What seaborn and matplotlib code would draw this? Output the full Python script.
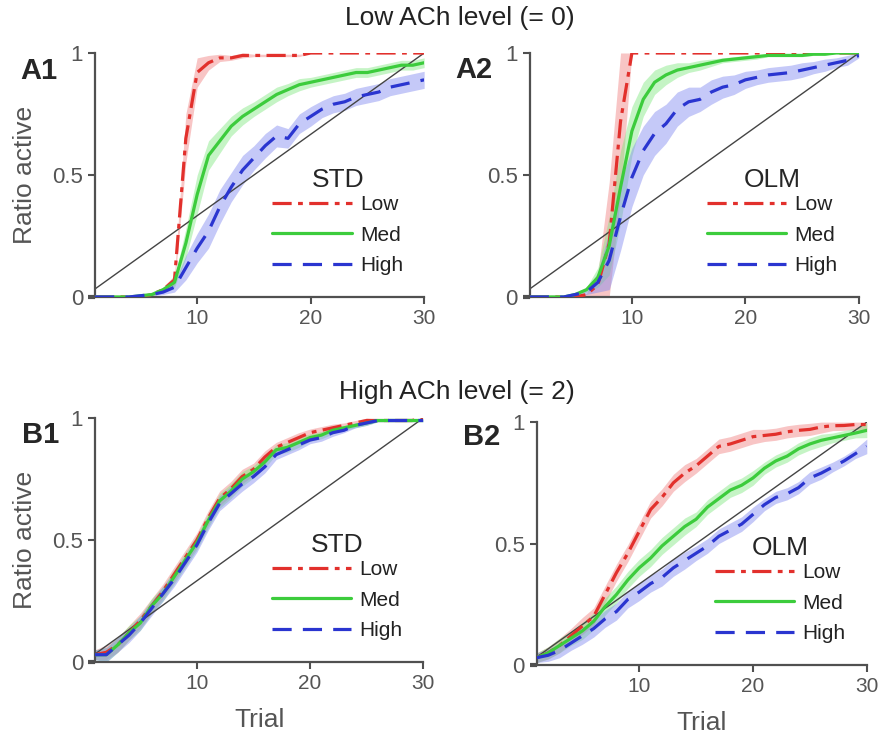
import numpy as np
import pandas as pd
import matplotlib
matplotlib.use("Agg")
import matplotlib.pyplot as plt
import seaborn as sns

trials = list(range(1, 31))
levels = ["Low", "Med", "High"]

# A1: low ACh, STD
a1_low = [0, 0, 0, 0, 0, 0.01, 0.03, 0.07, 0.65, 0.92, 0.96, 0.98, 0.98, 0.99, 0.99,
          0.99, 0.99, 0.99, 0.99, 1, 1, 1, 1, 1, 1, 1, 1, 1, 1, 1]
a1_med = [0, 0, 0, 0, 0.005, 0.01, 0.03, 0.06, 0.22, 0.42, 0.58, 0.64, 0.70, 0.74, 0.77,
          0.80, 0.83, 0.85, 0.87, 0.88, 0.89, 0.90, 0.91, 0.92, 0.92, 0.93, 0.94, 0.95, 0.95, 0.96]
a1_high = [0, 0, 0, 0, 0.005, 0.01, 0.02, 0.04, 0.12, 0.20, 0.27, 0.37, 0.45, 0.52, 0.57,
           0.62, 0.66, 0.65, 0.71, 0.74, 0.77, 0.79, 0.80, 0.82, 0.83, 0.84, 0.86, 0.87, 0.88, 0.89]
a1_low_sd = [0, 0, 0, 0, 0, 0.005, 0.01, 0.02, 0.1, 0.06, 0.03, 0.015, 0.01, 0.01, 0.005,
             0.005, 0.005, 0.005, 0.005, 0, 0, 0, 0, 0, 0, 0, 0, 0, 0, 0]
a1_med_sd = [0, 0, 0, 0, 0.005, 0.005, 0.01, 0.02, 0.06, 0.08, 0.06, 0.05, 0.04, 0.035, 0.03,
             0.03, 0.03, 0.025, 0.025, 0.02, 0.02, 0.02, 0.02, 0.02, 0.02, 0.02, 0.02, 0.02, 0.02, 0.02]
a1_high_sd = [0, 0, 0, 0, 0.005, 0.005, 0.01, 0.02, 0.05, 0.06, 0.07, 0.07, 0.06, 0.06, 0.05,
              0.05, 0.045, 0.04, 0.04, 0.04, 0.035, 0.035, 0.035, 0.035, 0.035, 0.035, 0.035, 0.035, 0.035, 0.035]

# A2: low ACh, OLM
a2_low = [0, 0, 0, 0, 0, 0.01, 0.05, 0.22, 0.72, 1, 1, 1, 1, 1, 1,
          1, 1, 1, 1, 1, 1, 1, 1, 1, 1, 1, 1, 1, 1, 1]
a2_med = [0, 0, 0, 0, 0.01, 0.03, 0.08, 0.21, 0.45, 0.68, 0.81, 0.88, 0.91, 0.93, 0.94,
          0.95, 0.96, 0.97, 0.975, 0.98, 0.985, 0.99, 0.99, 0.99, 0.99, 0.995, 0.995, 1, 1, 1]
a2_high = [0, 0, 0, 0, 0.01, 0.02, 0.06, 0.15, 0.33, 0.49, 0.60, 0.67, 0.71, 0.77, 0.80,
           0.81, 0.84, 0.86, 0.87, 0.89, 0.90, 0.91, 0.915, 0.92, 0.93, 0.94, 0.95, 0.96, 0.97, 0.99]
a2_low_sd = [0, 0, 0, 0, 0, 0.005, 0.05, 0.25, 0.3, 0, 0, 0, 0, 0, 0,
             0, 0, 0, 0, 0, 0, 0, 0, 0, 0, 0, 0, 0, 0, 0]
a2_med_sd = [0, 0, 0, 0, 0.005, 0.01, 0.04, 0.12, 0.15, 0.1, 0.07, 0.05, 0.04, 0.03, 0.02,
             0.02, 0.015, 0.01, 0.01, 0.01, 0.01, 0.005, 0.005, 0.005, 0.005, 0.005, 0.005, 0, 0, 0]
a2_high_sd = [0, 0, 0, 0, 0.005, 0.01, 0.04, 0.12, 0.14, 0.12, 0.1, 0.09, 0.08, 0.07, 0.06,
              0.05, 0.05, 0.045, 0.04, 0.035, 0.03, 0.03, 0.03, 0.03, 0.03, 0.025, 0.025, 0.02, 0.02, 0.01]

# B1: high ACh, STD
b1_low = [0.03, 0.04, 0.07, 0.12, 0.17, 0.23, 0.29, 0.36, 0.43, 0.50, 0.59, 0.67, 0.71, 0.76, 0.79,
          0.84, 0.88, 0.90, 0.92, 0.94, 0.95, 0.96, 0.97, 0.98, 0.99, 0.99, 0.99, 0.99, 0.99, 1.0]
b1_med = [0.03, 0.03, 0.07, 0.12, 0.16, 0.23, 0.28, 0.35, 0.42, 0.49, 0.58, 0.66, 0.70, 0.75, 0.78,
          0.82, 0.87, 0.88, 0.90, 0.92, 0.93, 0.95, 0.96, 0.97, 0.98, 0.99, 0.99, 0.99, 0.99, 0.99]
b1_high = [0.03, 0.03, 0.07, 0.11, 0.16, 0.22, 0.28, 0.34, 0.41, 0.48, 0.57, 0.65, 0.69, 0.73, 0.76,
           0.80, 0.85, 0.87, 0.89, 0.91, 0.92, 0.94, 0.95, 0.97, 0.98, 0.99, 0.99, 0.99, 0.99, 0.99]
b1_sd = [0.02, 0.03, 0.03, 0.03, 0.03, 0.03, 0.03, 0.03, 0.03, 0.03, 0.03, 0.03, 0.03, 0.03, 0.025,
         0.025, 0.02, 0.02, 0.02, 0.015, 0.015, 0.015, 0.01, 0.01, 0.01, 0.005, 0.005, 0.005, 0.005, 0.005]

# B2: high ACh, OLM
b2_low = [0.03, 0.05, 0.08, 0.12, 0.16, 0.20, 0.29, 0.38, 0.46, 0.55, 0.64, 0.69, 0.75, 0.79, 0.82,
          0.86, 0.90, 0.91, 0.925, 0.94, 0.945, 0.95, 0.96, 0.966, 0.97, 0.98, 0.985, 0.986, 0.99, 0.99]
b2_med = [0.03, 0.05, 0.08, 0.11, 0.14, 0.18, 0.24, 0.29, 0.35, 0.40, 0.44, 0.49, 0.53, 0.57, 0.60,
          0.65, 0.685, 0.72, 0.74, 0.77, 0.81, 0.84, 0.86, 0.89, 0.91, 0.925, 0.935, 0.945, 0.955, 0.966]
b2_high = [0.03, 0.04, 0.06, 0.09, 0.12, 0.15, 0.19, 0.22, 0.27, 0.30, 0.335, 0.36, 0.40, 0.43, 0.46,
           0.49, 0.53, 0.555, 0.58, 0.62, 0.66, 0.69, 0.705, 0.73, 0.77, 0.79, 0.815, 0.84, 0.87, 0.90]
b2_sd = [0.02, 0.025, 0.03, 0.03, 0.035, 0.035, 0.035, 0.035, 0.035, 0.035, 0.035, 0.035, 0.035, 0.035, 0.03,
         0.03, 0.03, 0.03, 0.03, 0.03, 0.025, 0.025, 0.025, 0.025, 0.025, 0.025, 0.02, 0.02, 0.02, 0.03]

# chance line endpoints
chance_x = [1, 30]
chance_y = [0.033, 1.0]

panels = [
    ("A1", "STD", [a1_low, a1_med, a1_high], [a1_low_sd, a1_med_sd, a1_high_sd]),
    ("A2", "OLM", [a2_low, a2_med, a2_high], [a2_low_sd, a2_med_sd, a2_high_sd]),
    ("B1", "STD", [b1_low, b1_med, b1_high], [b1_sd, b1_sd, b1_sd]),
    ("B2", "OLM", [b2_low, b2_med, b2_high], [b2_sd, b2_sd, b2_sd]),
]

colors = {"Low": "#e2302c", "Med": "#3ccc3c", "High": "#2a35d0"}
bands = {"Low": "#f08080", "Med": "#80e880", "High": "#8088f0"}
dashes = {"Low": (6, 2, 1.5, 2), "Med": "", "High": (6, 3.5)}

sns.set_style("ticks")
plt.rcParams["font.family"] = ["Liberation Sans", "DejaVu Sans"]

fig = plt.figure(figsize=(8.8, 7.36), dpi=100)
rects = [
    [0.108, 0.5965, 0.374, 0.3315],
    [0.602, 0.5965, 0.374, 0.3315],
    [0.108, 0.1005, 0.373, 0.3315],
    [0.610, 0.0965, 0.375, 0.3300],
]
gray = "#505050"

for (name, cell, means, sds), rect in zip(panels, rects):
    ax = fig.add_axes(rect)
    rows = []
    for lev, m in zip(levels, means):
        for t, v in zip(trials, m):
            rows.append({"trial": t, "ratio": v, "ACh": lev})
    df = pd.DataFrame(rows)

    for lev, m, s in zip(levels, means, sds):
        m = np.array(m)
        s = np.array(s)
        ax.fill_between(trials, np.clip(m - s, 0, 1), np.clip(m + s, 0, 1),
                        color=bands[lev], alpha=0.45, lw=0)
    ax.plot(chance_x, chance_y, color="#444444", lw=1.0, zorder=2)
    sns.lineplot(data=df, x="trial", y="ratio", hue="ACh", style="ACh",
                 palette=colors, dashes=dashes, hue_order=levels, style_order=levels,
                 lw=2.3, ax=ax, zorder=3)

    h, l = ax.get_legend_handles_labels()
    leg = ax.legend(h, l, title=cell, loc="lower right", bbox_to_anchor=(0.98, 0.03),
                    frameon=False, fontsize=15, title_fontsize=19, handlelength=3.8,
                    handletextpad=0.4, labelspacing=0.55, borderpad=0.2)
    leg._legend_box.sep = 2
    for txt in leg.get_texts():
        txt.set_color("#222222")

    ax.set_xlim(1, 30)
    ax.set_ylim(0, 1)
    ax.set_xticks([10, 20, 30])
    ax.set_yticks([0, 0.5, 1])
    ax.set_yticklabels(["0", "0.5", "1"])
    sns.despine(ax=ax)
    for sp in ["left", "bottom"]:
        ax.spines[sp].set_color(gray)
        ax.spines[sp].set_linewidth(1.6)
    ax.tick_params(axis="both", colors=gray, labelcolor="#555555", length=5, width=1.5)
    ax.tick_params(axis="x", labelsize=15)
    ax.tick_params(axis="y", labelsize=16)
    zero_tick = ax.yaxis.get_major_ticks()[0].tick1line
    zero_tick.set_color("black")
    zero_tick.set_markeredgewidth(3)

    if name in ("A1", "B1"):
        ax.set_ylabel("Ratio active", fontsize=19, color="#555555")
        ax.yaxis.set_label_coords(-0.176, 0.5)
    else:
        ax.set_ylabel("")
    if name in ("B1", "B2"):
        ax.set_xlabel("Trial", fontsize=19, color="#555555")
        ax.xaxis.set_label_coords(0.5, -0.19)
    else:
        ax.set_xlabel("")

fig.text(0.522, 0.975, "Low ACh level (= 0)", ha="center", va="center", fontsize=19, color="#222222")
fig.text(0.519, 0.467, "High ACh level (= 2)", ha="center", va="center", fontsize=19, color="#222222")
fig.text(0.023, 0.904, "A1", ha="left", va="center", fontsize=21, fontweight="bold")
fig.text(0.517, 0.905, "A2", ha="left", va="center", fontsize=21, fontweight="bold")
fig.text(0.025, 0.409, "B1", ha="left", va="center", fontsize=21, fontweight="bold")
fig.text(0.526, 0.406, "B2", ha="left", va="center", fontsize=21, fontweight="bold")

fig.savefig("out.png", dpi=100)
